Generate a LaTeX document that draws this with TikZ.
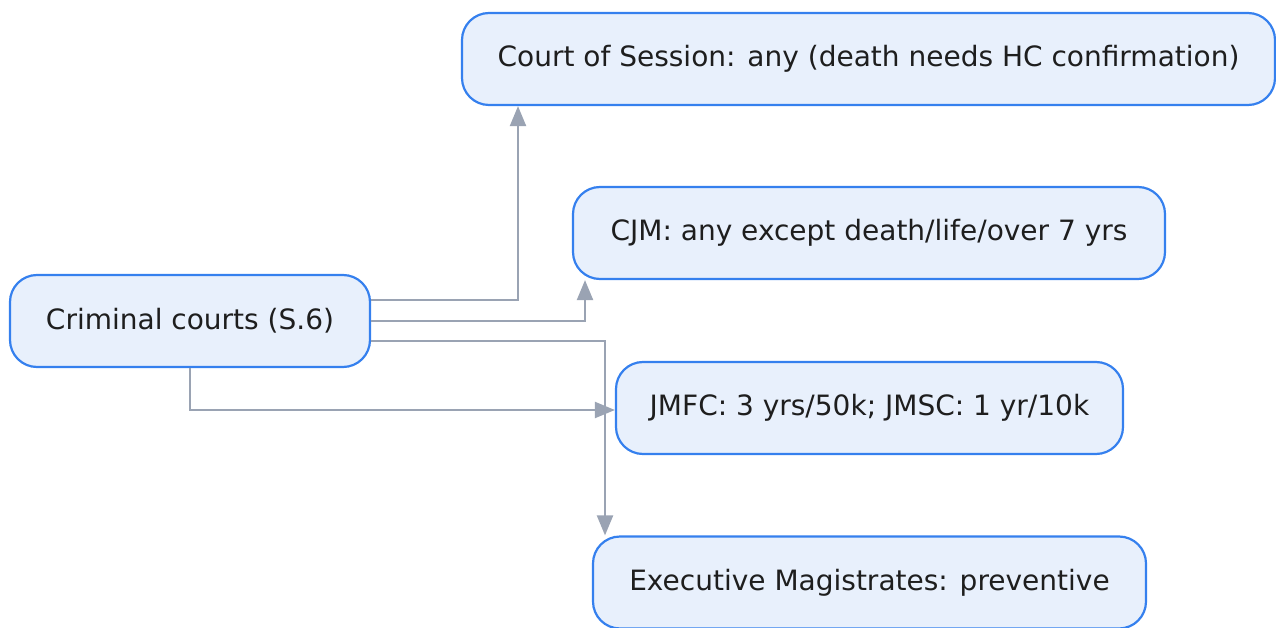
\documentclass[tikz,border=0pt]{standalone}
\usepackage{fontspec}
\setmainfont{DejaVu Sans}
\usetikzlibrary{arrows.meta,calc}
\definecolor{boxfill}{HTML}{E8F0FC}
\definecolor{boxline}{HTML}{3580EE}
\definecolor{edgegray}{HTML}{9AA3B3}
\definecolor{textdark}{HTML}{1E1E1E}
\begin{document}
\begin{tikzpicture}[x=1pt,y=-1pt,
  court/.style={draw=boxline, fill=boxfill, line width=2.2pt, rounded corners=27pt,
    minimum height=92pt, inner sep=0pt, text=textdark,
    font=\fontsize{28}{34}\selectfont},
  link/.style={draw=edgegray, line width=2.2pt,
    -{Triangle[length=20pt,width=16pt]}}]
\useasboundingbox (0,0) rectangle (1276,628);

\node[court, minimum width=360pt] (crim) at (190,321) {Criminal courts (S.6)};
\node[court, minimum width=813pt] (cos) at (868.5,59) {Court of Session: any (death needs HC confirmation)};
\node[court, minimum width=592pt] (cjm) at (869,233) {CJM: any except death/life/over 7 yrs};
\node[court, minimum width=507pt] (jmfc) at (869.5,408) {JMFC: 3 yrs/50k; JMSC: 1 yr/10k};
\node[court, minimum width=553pt] (exec) at (869.5,582.5) {Executive Magistrates: preventive};

\draw[link] ([yshift=21pt]crim.east) -| ([xshift=-350.5pt]cos.south);
\draw[link] (crim.east) -| ([xshift=-284pt]cjm.south);
\draw[link] ([yshift=-20pt]crim.east) -| ([xshift=-264.5pt]exec.north);
\draw[link] (crim.south) |- ([yshift=-2pt]jmfc.west);
\end{tikzpicture}
\end{document}
